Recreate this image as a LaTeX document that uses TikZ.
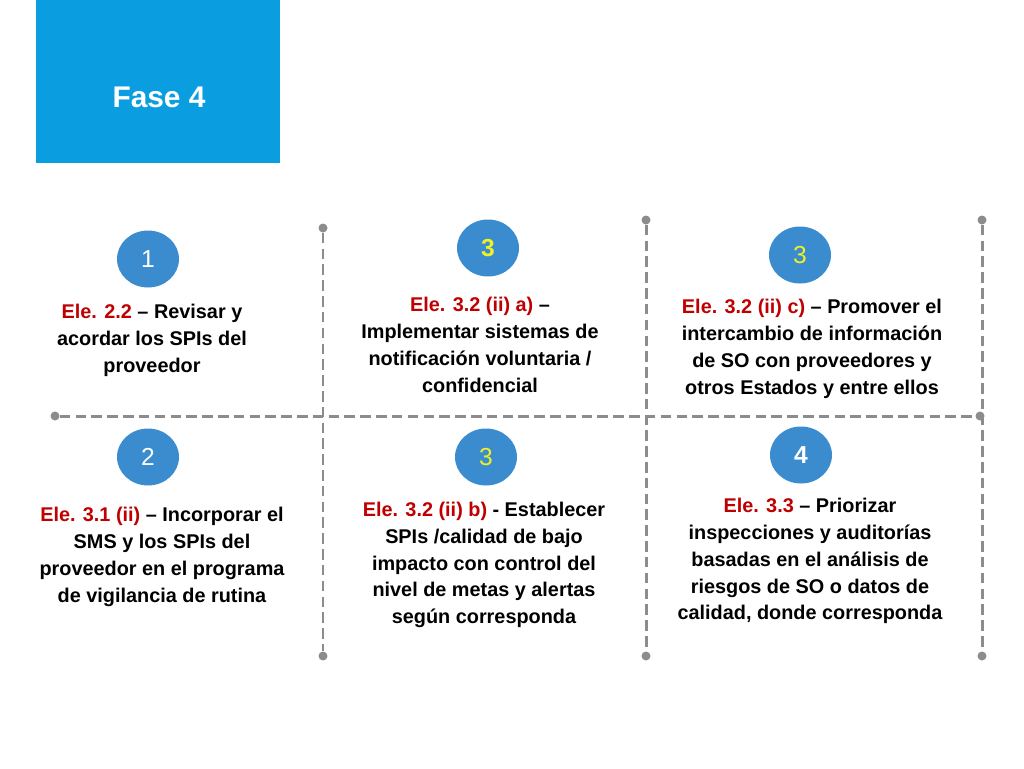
\documentclass[tikz,border=0pt]{standalone}
\usepackage{fontspec}
\setmainfont{Liberation Sans}
\usetikzlibrary{positioning,shapes.geometric}
\definecolor{hdrblue}{RGB}{10,157,224}
\definecolor{numblue}{RGB}{58,140,206}
\definecolor{elered}{RGB}{192,0,0}
\definecolor{numyel}{RGB}{240,240,40}
\definecolor{lngray}{RGB}{140,140,140}
\tikzset{
  num/.style={ellipse, minimum width=1.24cm, minimum height=1.14cm, fill=numblue, text=white, font=\fontsize{14}{14}\selectfont},
  numy/.style={num, text=numyel},
  txt/.style={align=center, font=\bfseries\fontsize{11.3}{15.3}\selectfont},
  sep/.style={draw=lngray, line width=1.7pt, dash pattern=on 6pt off 3pt},
  dot/.style={circle, fill=lngray, inner sep=0pt, minimum size=0.18cm}
}
\newcommand{\ele}[1]{\textcolor{elered}{#1}}
\begin{document}
\begin{tikzpicture}[x=0.02cm,y=-0.02cm]
	\useasboundingbox (0,0) rectangle (1024,768);
	\fill[hdrblue] (36,0) rectangle (280,163);
	\node[text=white, font=\bfseries\fontsize{17}{17}\selectfont] (title) at (159,97) {Fase 4};
	% separators
	\node[dot] (hl) at (55,416) {};
	\node[dot] (hr) at (980,416) {};
	\draw[sep] (hl) -- (hr);
	\node[dot] (v1t) at (323,228) {};
	\node[dot] (v1b) at (323,656) {};
	\node[dot] (v2t) at (646,220) {};
	\node[dot] (v2b) at (646,656) {};
	\node[dot] (v3t) at (982,220) {};
	\node[dot] (v3b) at (982,656) {};
	\draw[sep] (v1t) -- (v1b);
	\draw[sep] (v2t) -- (v2b);
	\draw[sep] (v3t) -- (v3b);
	% numbers
	\node[num] (n1) at (148,259) {1};
	\node[numy, font=\bfseries\fontsize{14}{14}\selectfont] (n3a) at (488,248) {3};
	\node[numy] (n3c) at (800,255) {3};
	\node[num] (n2) at (148,457) {2};
	\node[numy] (n3b) at (486,457) {3};
	\node[num, font=\bfseries\fontsize{14}{14}\selectfont] (n4) at (801,455) {4};
	% texts
	\node[txt] (t1) at (152,340) {\ele{Ele. 2.2} -- Revisar y\\acordar los SPIs del\\proveedor};
	\node[txt] (t2) at (480,345) {\ele{Ele. 3.2 (ii) a)} --\\Implementar sistemas de\\notificación voluntaria /\\confidencial};
	\node[txt] (t3) at (812,349) {\ele{Ele. 3.2 (ii) c)} -- Promover el\\intercambio de información\\de SO con proveedores y\\otros Estados y entre ellos};
	\node[txt] (b1) at (162,557) {\ele{Ele. 3.1 (ii)} -- Incorporar el\\SMS y los SPIs del\\proveedor en el programa\\de vigilancia de rutina};
	\node[txt] (b2) at (484,565) {\ele{Ele. 3.2 (ii) b)} - Establecer\\SPIs /calidad de bajo\\impacto con control del\\nivel de metas y alertas\\según corresponda};
	\node[txt] (b3) at (810,561) {\ele{Ele. 3.3} -- Priorizar\\inspecciones y auditorías\\basadas en el análisis de\\riesgos de SO o datos de\\calidad, donde corresponda};
\end{tikzpicture}
\end{document}
